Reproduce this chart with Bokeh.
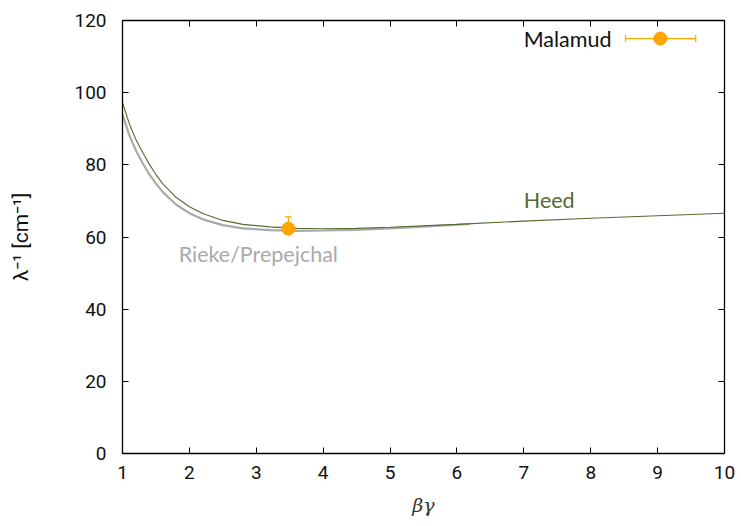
from bokeh.plotting import figure
from bokeh.models import LinearAxis, FixedTicker, Range1d, Label, CustomLabelingPolicy
from bokeh.embed import file_html
from bokeh.resources import INLINE

# Mean free path curves, inverse length in cm^-1 versus beta*gamma
heed_bg = [1.0, 1.1, 1.2, 1.3, 1.4, 1.5, 1.6, 1.8, 2.0, 2.2, 2.5, 2.8, 3.2, 3.6,
           4.0, 4.5, 5.0, 6.0, 7.0, 8.0, 9.0, 10.0]
heed_inv = [97.2, 91.5, 87.0, 83.5, 80.2, 77.3, 74.8, 71.0, 68.4, 66.5, 64.6, 63.5,
            62.8, 62.4, 62.3, 62.4, 62.7, 63.5, 64.4, 65.2, 65.9, 66.6]

rieke_bg = [1.0, 1.1, 1.2, 1.3, 1.4, 1.5, 1.6, 1.8, 2.0, 2.2, 2.5, 2.8, 3.2, 3.6,
            4.0, 4.5, 5.0, 5.5, 6.2]
rieke_inv = [94.0, 88.3, 84.0, 80.5, 77.4, 74.8, 72.5, 69.0, 66.6, 64.9, 63.3, 62.4,
             61.9, 61.7, 61.8, 62.0, 62.4, 62.9, 63.6]

# Measurement (Malamud)
malamud_bg = [3.48]
malamud_inv = [62.3]
malamud_hi = [65.6]
malamud_lo = [61.6]

x_ticks = [1, 2, 3, 4, 5, 6, 7, 8, 9, 10]
y_ticks = [0, 20, 40, 60, 80, 100, 120]

HEED_COLOR = "#556b2f"
RIEKE_COLOR = "#aaaaaa"
DATA_COLOR = "#ffa500"
TICK_FONT = "Roboto"
TEXT_FONT = "Lato"

p = figure(width=741, height=526, output_backend="svg", toolbar_location=None,
           x_range=Range1d(1, 10), y_range=Range1d(0, 120),
           min_border_left=122, min_border_right=17, min_border_top=20,
           min_border_bottom=73, x_axis_location=None, y_axis_location=None)
p.grid.visible = False
p.outline_line_color = None
p.background_fill_color = "white"
p.border_fill_color = "white"

# Mirrored axes carry ticks only
no_labels = CustomLabelingPolicy(
    code="const all = [...indices]; for (const i of all) indices.unset(i); return indices")


def style_axis(ax, ticks, labels=True):
    ax.ticker = FixedTicker(ticks=ticks)
    ax.major_tick_in = 6
    ax.major_tick_out = 0
    ax.minor_tick_line_color = None
    ax.axis_line_color = "black"
    ax.axis_line_width = 1.3
    ax.major_tick_line_color = "black"
    ax.major_tick_line_width = 1.0
    ax.major_label_text_font = TICK_FONT
    ax.major_label_text_font_size = "19px"
    ax.major_label_text_color = "#111111"
    if not labels:
        ax.major_label_policy = no_labels
        ax.major_label_text_font_size = "1px"
        ax.major_label_standoff = 0


bottom = LinearAxis()
top = LinearAxis()
left = LinearAxis()
right = LinearAxis()
p.add_layout(bottom, "below")
p.add_layout(left, "left")
p.add_layout(top, "above")
p.add_layout(right, "right")
style_axis(bottom, x_ticks)
style_axis(left, y_ticks)
style_axis(top, x_ticks, labels=False)
style_axis(right, y_ticks, labels=False)

bottom.major_label_standoff = 12
left.major_label_standoff = 16
bottom.axis_label = "βγ"
bottom.axis_label_text_font = "DejaVu Serif"
bottom.axis_label_text_font_style = "italic"
bottom.axis_label_text_font_size = "19px"
bottom.axis_label_text_color = "#333333"
bottom.axis_label_standoff = 12
left.axis_label = "λ⁻¹ [cm⁻¹]"
left.axis_label_text_font = TICK_FONT
left.axis_label_text_font_style = "normal"
left.axis_label_text_font_size = "21px"
left.axis_label_text_color = "#111111"
left.axis_label_standoff = 38

# Curves
p.line(rieke_bg, rieke_inv, line_color=RIEKE_COLOR, line_width=2.2)
p.line(heed_bg, heed_inv, line_color=HEED_COLOR, line_width=1.1)

# Measurement with asymmetric vertical error bar
p.segment(x0=malamud_bg, y0=malamud_lo, x1=malamud_bg, y1=malamud_hi,
          line_color=DATA_COLOR, line_width=1.2)
p.rect(x=malamud_bg, y=malamud_hi, width=7, height=1.2, width_units="screen",
       height_units="screen", fill_color=DATA_COLOR, line_color=None)
p.scatter(malamud_bg, malamud_inv, size=13, fill_color=DATA_COLOR,
          line_color=DATA_COLOR)

# Key entry for the measurement
key_x, key_lo, key_hi, key_y = [9.04], [8.52], [9.57], [115.0]
p.segment(x0=key_lo, y0=key_y, x1=key_hi, y1=key_y, line_color=DATA_COLOR,
          line_width=1.2)
for kx in (key_lo, key_hi):
    p.rect(x=kx, y=key_y, width=1.2, height=7, width_units="screen",
           height_units="screen", fill_color=DATA_COLOR, line_color=None)
p.scatter(key_x, key_y, size=13, fill_color=DATA_COLOR, line_color=DATA_COLOR)
p.add_layout(Label(x=8.31, y=115.0, text="Malamud", text_align="right",
                   text_baseline="middle", text_font=TEXT_FONT,
                   text_font_size="21.5px", text_color="#111111"))

# Curve labels
p.add_layout(Label(x=7.38, y=70.3, text="Heed", text_align="center",
                   text_baseline="middle", text_font=TEXT_FONT,
                   text_font_size="21.5px", text_color=HEED_COLOR))
p.add_layout(Label(x=3.03, y=55.4, text="Rieke/Prepejchal", text_align="center",
                   text_baseline="middle", text_font=TEXT_FONT,
                   text_font_size="21.5px", text_color=RIEKE_COLOR))

open("out.html", "w").write(file_html(p, INLINE))
